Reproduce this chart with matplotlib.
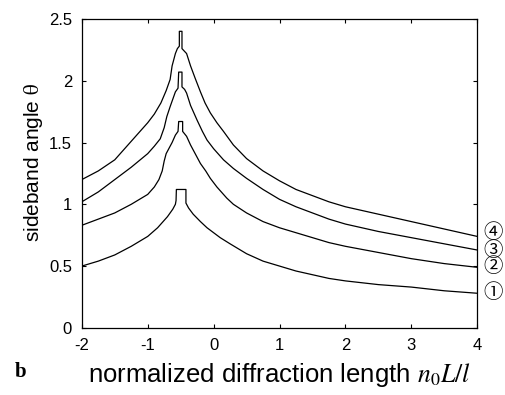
import matplotlib
matplotlib.use("Agg")
import matplotlib.pyplot as plt

plt.rcParams['font.family'] = ['Liberation Sans', 'DejaVu Sans']
plt.rcParams['mathtext.fontset'] = 'stix'
plt.rcParams['axes.unicode_minus'] = False

# Curve 1 (bottom)
x1 = [-2.0, -1.75, -1.5, -1.25, -1.0, -0.85, -0.7, -0.62, -0.58, -0.57, -0.565, -0.42, -0.42, -0.38, -0.31,
      -0.2, -0.1, 0.0, 0.1, 0.25, 0.5, 0.75, 1.0, 1.25, 1.5, 1.75, 2.0, 2.5, 3.0, 3.5, 4.0]
y1 = [0.50, 0.54, 0.59, 0.66, 0.74, 0.81, 0.90, 0.96, 1.00, 1.03, 1.12, 1.12, 1.01, 0.97, 0.92,
      0.86, 0.81, 0.77, 0.73, 0.68, 0.60, 0.54, 0.50, 0.46, 0.43, 0.40, 0.38, 0.35, 0.33, 0.30, 0.28]

# Curve 2
x2 = [-2.0, -1.75, -1.5, -1.25, -1.0, -0.9, -0.83, -0.78, -0.75, -0.72, -0.67, -0.63, -0.58, -0.54, -0.53,
      -0.47, -0.47, -0.44, -0.41, -0.35, -0.28, -0.2, -0.12, -0.05, 0.05, 0.2, 0.3, 0.5, 0.75, 1.0, 1.25,
      1.5, 1.75, 2.0, 2.5, 3.0, 3.5, 4.0]
y2 = [0.83, 0.88, 0.93, 1.00, 1.08, 1.14, 1.20, 1.27, 1.35, 1.41, 1.46, 1.50, 1.56, 1.59, 1.67,
      1.67, 1.59, 1.57, 1.55, 1.48, 1.41, 1.33, 1.27, 1.21, 1.14, 1.05, 1.00, 0.93, 0.86, 0.81, 0.77,
      0.73, 0.69, 0.66, 0.61, 0.56, 0.52, 0.49]

# Curve 3
x3 = [-2.0, -1.75, -1.5, -1.25, -1.0, -0.9, -0.81, -0.75, -0.71, -0.66, -0.62, -0.58, -0.54, -0.53,
      -0.48, -0.48, -0.44, -0.41, -0.35, -0.25, -0.17, -0.10, 0.0, 0.15, 0.3, 0.5, 0.75, 1.0, 1.25,
      1.5, 1.75, 2.0, 2.5, 3.0, 3.5, 4.0]
y3 = [1.02, 1.10, 1.20, 1.30, 1.41, 1.47, 1.53, 1.62, 1.71, 1.79, 1.85, 1.91, 1.94, 2.07,
      2.07, 1.95, 1.93, 1.90, 1.80, 1.68, 1.59, 1.52, 1.45, 1.36, 1.29, 1.21, 1.12, 1.04, 0.98,
      0.93, 0.88, 0.84, 0.78, 0.73, 0.68, 0.63]

# Curve 4 (top)
x4 = [-2.0, -1.75, -1.5, -1.25, -1.0, -0.9, -0.8, -0.72, -0.66, -0.63, -0.58, -0.55, -0.52, -0.52,
      -0.48, -0.48, -0.41, -0.35, -0.28, -0.2, -0.13, -0.05, 0.05, 0.15, 0.3, 0.5, 0.75, 1.0, 1.25,
      1.5, 1.75, 2.0, 2.5, 3.0, 3.5, 4.0]
y4 = [1.20, 1.27, 1.36, 1.51, 1.66, 1.73, 1.82, 1.92, 2.01, 2.12, 2.22, 2.26, 2.28, 2.40,
      2.40, 2.26, 2.22, 2.12, 2.02, 1.91, 1.82, 1.74, 1.66, 1.59, 1.48, 1.37, 1.27, 1.19, 1.12,
      1.07, 1.02, 0.98, 0.92, 0.86, 0.80, 0.74]

curve_labels = ['①', '②', '③', '④']
label_y = [0.285, 0.495, 0.63, 0.77]
xticks = [-2, -1, 0, 1, 2, 3, 4]
yticks = [0, 0.5, 1, 1.5, 2, 2.5]
ytick_labels = ['0', '0.5', '1', '1.5', '2', '2.5']

fig = plt.figure(figsize=(5.05, 3.95), dpi=100)
ax = fig.add_axes([0.162, 0.170, 0.783, 0.782])

for xs, ys in [(x1, y1), (x2, y2), (x3, y3), (x4, y4)]:
    ax.plot(xs, ys, color='black', linewidth=0.9)

ax.set_xlim(-2, 4)
ax.set_ylim(0, 2.5)
ax.set_xticks(xticks)
ax.set_xticklabels([str(t) for t in xticks])
ax.set_yticks(yticks)
ax.set_yticklabels(ytick_labels)
ax.tick_params(direction='in', length=3, width=0.8, labelsize=12, top=True, right=True, pad=7)
for s in ax.spines.values():
    s.set_linewidth(0.9)

ax.set_ylabel(r'sideband angle $\mathrm{\theta}$', fontsize=15)
ax.yaxis.set_label_coords(-0.093, 0.535)
ax.set_xlabel(r'normalized diffraction length $n_0L/l$', fontsize=18.5, labelpad=6)

for lab, yv in zip(curve_labels, label_y):
    ax.text(1.04, yv, lab, transform=ax.get_yaxis_transform(), ha='center', va='center',
            fontsize=14, family=['Noto Sans CJK JP', 'DejaVu Sans'], clip_on=False)

fig.text(0.03, 0.045, 'b', fontsize=15, fontweight='bold', family='Liberation Serif')

fig.savefig('out.png', dpi=100)
